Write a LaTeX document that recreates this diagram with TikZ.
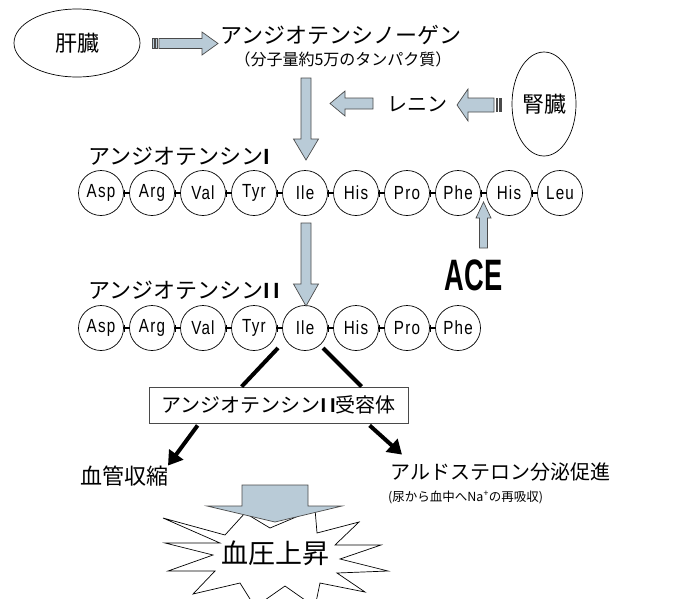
\documentclass[tikz,border=0pt]{standalone}
\usepackage{fontspec}
\usepackage{graphicx}
\setmainfont{Noto Sans CJK JP}
\newfontfamily\aafam[LetterSpace=8]{Liberation Sans}
\newfontfamily\latfam{Liberation Sans}
\usetikzlibrary{calc,arrows.meta,shapes.geometric}
\definecolor{abfill}{HTML}{B9CBD7}
\definecolor{abline}{HTML}{4A4A4A}
\newcommand\fs[1]{\fontsize{#1}{#1}\selectfont}
\newcommand\romI{{\latfam\bfseries I}}
\newcommand\romII{{\latfam\bfseries I\hspace{4pt}I}}
\newcommand\aatext[1]{\aafam\fs{19}\scalebox{0.8}[1]{#1}}
\begin{document}
\begin{tikzpicture}[x=1pt,y=-1pt,
  ab/.style={fill=abfill, draw=abline, line width=0.7pt, line join=miter},
  aa/.style={circle, draw=black, line width=0.7pt, minimum size=45pt, inner sep=0pt},
  link/.style={line width=2.6pt},
  organ/.style={ellipse, draw=black, line width=0.7pt, inner sep=0pt, font=\fs{22}},
  lbl/.style={inner sep=0pt},
  thickl/.style={line width=4pt},
  thicka/.style={line width=4pt, -{Triangle[length=14pt,width=17pt]}},
]
\useasboundingbox (0,0) rectangle (679,598);

% organs
\node[organ, minimum width=126pt, minimum height=68pt] (liver) at (77,43) {肝臓};
\node[organ, minimum width=64pt, minimum height=104pt] (kidney) at (544,104) {腎臓};

% texts
\node[lbl, anchor=west, font=\fs{22}] (agen) at (220,35) {アンジオテンシノーゲン};
\node[lbl, font=\fs{16}] (agensub) at (343,59) {（分子量約5万のタンパク質）};
\node[lbl, anchor=west, font=\fs{20}] (renin) at (387,104) {レニン};
\node[lbl, anchor=west, font=\fs{22}] (a1t) at (88,156) {アンジオテンシン\romI};
\node[lbl, anchor=west, font=\fs{22}] (a2t) at (88,290) {アンジオテンシン\romII};
\node[lbl, anchor=base] (ace) at (473.5,290) {\latfam\bfseries\fs{44}\scalebox{0.62}[1]{ACE}};

% amino acid rows
\foreach \n [count=\i from 0] in {Asp,Arg,Val,Tyr,Ile,His,Pro,Phe,His,Leu}
  \node[aa] (r1-\i) at (101+51*\i,193) {\aatext{\n}};
\foreach \n [count=\i from 0] in {Asp,Arg,Val,Tyr,Ile,His,Pro,Phe}
  \node[aa] (r2-\i) at (101+51*\i,328) {\aatext{\n}};
\foreach \i [evaluate=\i as \j using int(\i+1)] in {0,...,8} {
  \draw[link] (r1-\i.east) -- (r1-\j.west);
  \draw[line width=1pt] ($(r1-\i.east)+(0.5,-3.5)$) -- ++(0,7);
}
\foreach \i [evaluate=\i as \j using int(\i+1)] in {0,...,6} {
  \draw[link] (r2-\i.east) -- (r2-\j.west);
  \draw[line width=1pt] ($(r2-\i.east)+(0.5,-3.5)$) -- ++(0,7);
}

% block arrows
\draw[ab] (152,38.5) rectangle (154,48.5);
\draw[ab] (155.5,38.5) rectangle (157.5,48.5);
\draw[ab] (159,38.5) -- (202,38.5) -- (202,32) -- (218,43.5) -- (202,55) -- (202,48.5) -- (159,48.5) -- cycle;
\draw[ab] (301,78) -- (311,78) -- (311,139) -- (318.5,139) -- (306,160) -- (293.5,139) -- (301,139) -- cycle;
\draw[ab] (373,98) -- (345,98) -- (345,91) -- (330,103.5) -- (345,116) -- (345,109) -- (373,109) -- cycle;
\draw[ab] (494,98) -- (468,98) -- (468,89) -- (457,105) -- (468,121) -- (468,112) -- (494,112) -- cycle;
\fill[abline] (495.5,98) rectangle (497.5,112);
\fill[abline] (499,98) rectangle (501.5,112);
\draw[ab] (301,223) -- (311,223) -- (311,284) -- (318.5,284) -- (306,306) -- (293.5,284) -- (301,284) -- cycle;
\draw[ab] (479.5,248) -- (479.5,218) -- (476,218) -- (483.5,202) -- (491,218) -- (487.5,218) -- (487.5,248) -- cycle;

% receptor box
\node[draw=abline, line width=0.8pt, minimum width=259pt, minimum height=36pt, inner sep=0pt, font=\fs{20}] (rec) at (278.5,405) {アンジオテンシン\romII 受容体};
\draw[thickl] ($(r2-4.center)+(-27,20)$) -- ($(rec.north west)+(93,0)$);
\draw[thickl] ($(r2-4.center)+(18,20)$) -- ($(rec.north west)+(213,0)$);

% effects
\node[lbl, anchor=west, font=\fs{22}] (vaso) at (80,476) {血管収縮};
\node[lbl, anchor=west, font=\fs{20}] (aldo) at (390,472) {アルドステロン分泌促進};
\node[lbl, anchor=west, font=\fs{12.5}] (aldosub) at (388,497) {(尿から血中へNa\textsuperscript{+}の再吸収)};
\draw[thicka] ($(rec.south west)+(49,2)$) -- (vaso.north east -| 168,0) ;
\draw[thicka] ($(rec.south west)+(221,2)$) -- ($(aldo.north west)+(12,-8)$);

% starburst
\begin{scope}[shift={(275,553)}]
\draw[fill=white, line width=0.7pt, line join=miter]
  (-112,-35) -- (-50,-18) -- (-30,-40) -- (-5,-25) -- (40,-44) -- (42,-20) -- (84,-31) -- (60,-8)
  -- (106,-8) -- (65,6) -- (113,18) -- (62,20) -- (90,39) -- (45,30) -- (40,54) -- (10,33)
  -- (-20,54) -- (-35,30) -- (-82,41) -- (-60,18) -- (-107,18) -- (-62,2) -- (-110,-10) -- (-55,-10) -- cycle;
\end{scope}
\draw[ab] (242,485) -- (308,485) -- (308,506) -- (342,506) -- (275,522) -- (207,506) -- (242,506) -- cycle;
\node[lbl, font=\fs{27}] (bp) at (275,553) {血圧上昇};
\end{tikzpicture}
\end{document}
